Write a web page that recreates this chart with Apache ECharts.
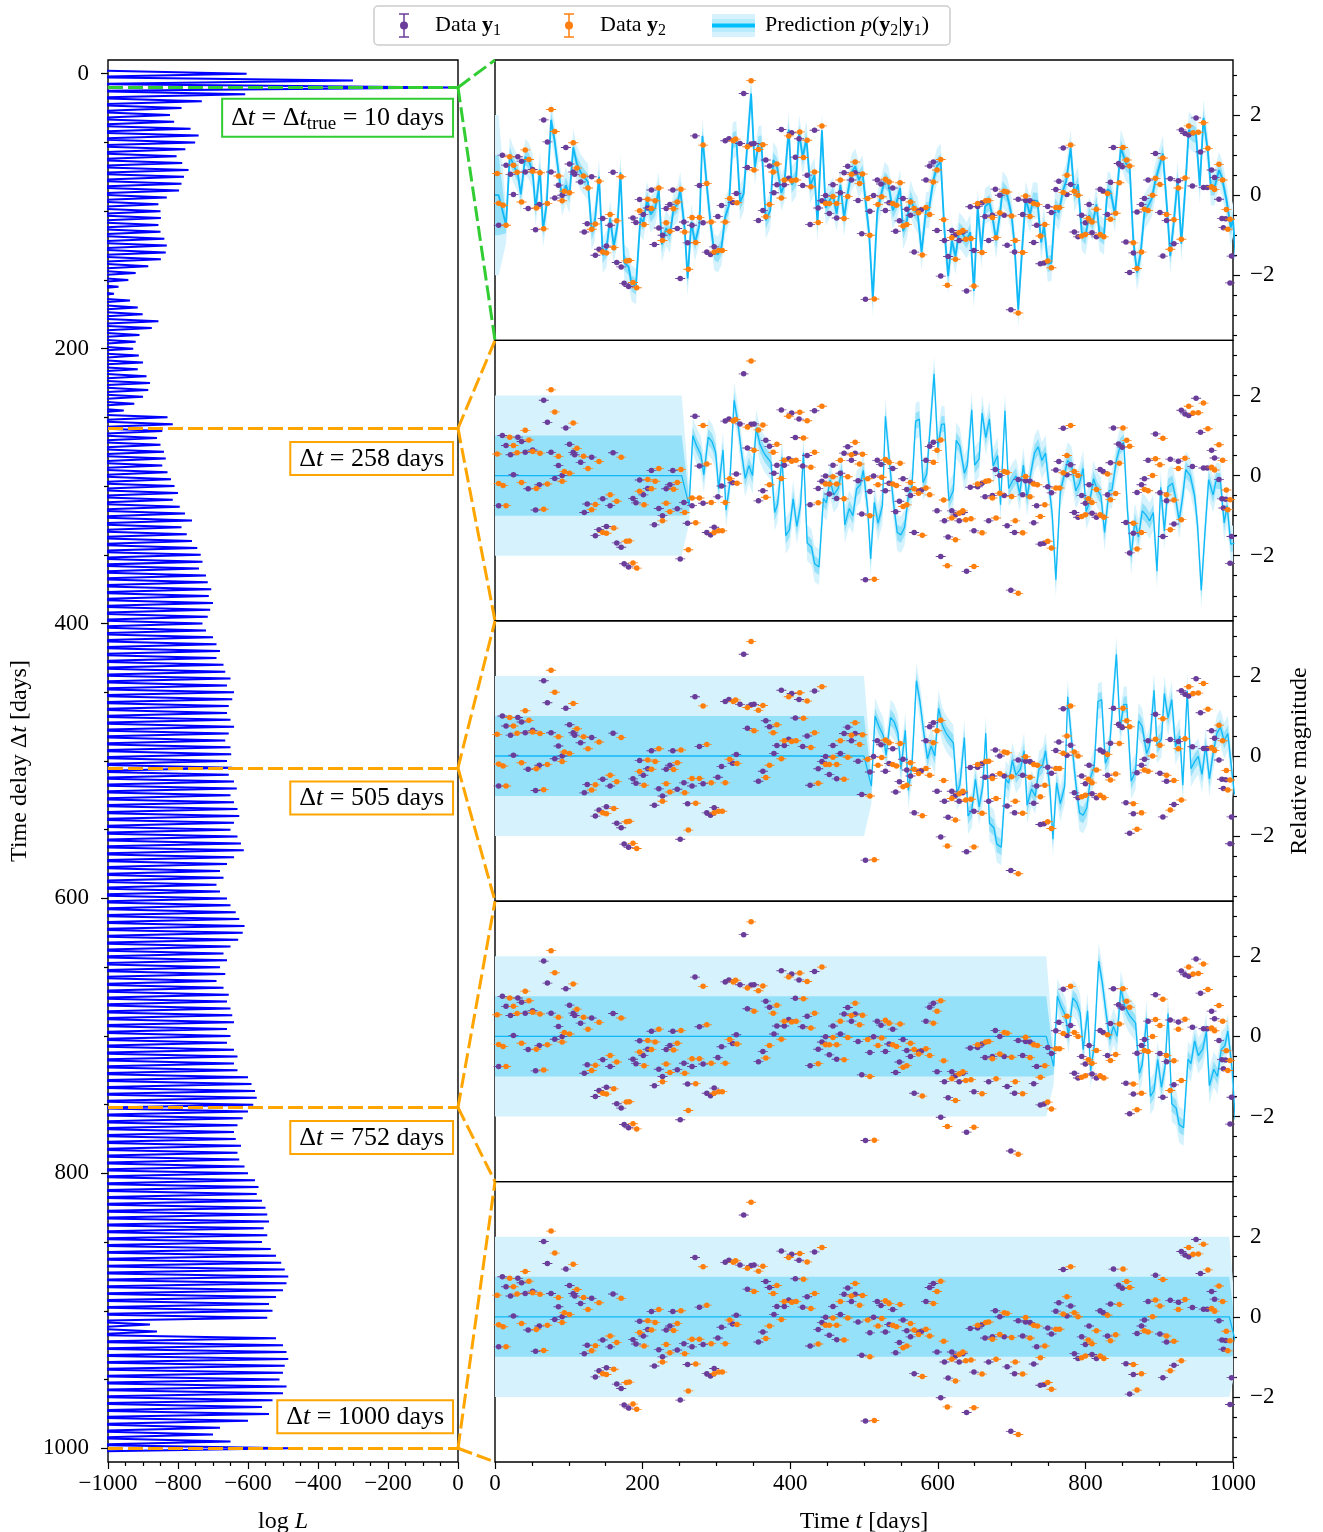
<!DOCTYPE html>
<html><head><meta charset="utf-8">
<script src="https://cdn.jsdelivr.net/npm/echarts@6/dist/echarts.min.js"></script>
<style>html,body{margin:0;padding:0;background:#fff}#c{width:1323px;height:1532px}</style>
</head><body><div id="c"></div>
<script>
// ---------------- DATA ----------------
const y1Times = [5,10,15,21,25,31,36,41,45,51,55,60,66,71,76,81,86,91,96,101,106,108,116,121,125,131,136,141,146,151,156,160,165,
171,175,181,187,191,196,201,207,212,216,222,227,232,237,241,247,251,256,261,267,271,277,282,287,292,297,302,307,312,317,322,327,332,
337,342,347,351,357,363,367,372,378,382,388,392,398,402,407,412,417,423,427,433,438,443,448,453,458,463,468,473,478,483,488,492,497,502,
508,513,518,523,529,534,539,543,548,553,558,563,568,574,578,584,589,594,599,604,609,614,619,624,629,634,639,644,649,654,660,664,669,
674,678,684,690,694,699,704,709,715,719,725,730,734,739,744,749,754,760,764,770,775,780,785,790,795,800,805,809,815,820,824,830,834,838,
845,850,855,860,865,870,876,880,885,895,901,905,910,915,920,926,930,935,940,945,950,956,960,965,971,975,981,985,987,990,996,998];
const y1Values = [-0.75,1.0,0.75,0.52,0.02,0.96,0.85,0.58,-0.33,0.64,-0.86,-0.23,1.88,1.33,0.58,-0.07,0.25,0.0,1.19,0.78,0.58,0.52,0.33,-0.92,-0.71,0.46,-1.5,-1.35,-0.58,-1.27,-0.75,0.57,-1.68,
-1.79,-2.2,-2.28,-0.57,-0.68,-0.11,-0.48,-0.32,0.13,-1.23,-0.82,-1.0,-0.33,-0.23,0.13,-0.83,-2.08,-0.67,-1.19,-0.75,1.48,0.24,-0.69,-1.42,-1.48,-1.29,-0.53,-0.26,1.36,1.41,-0.18,0.04,1.29,
2.54,0.69,1.28,1.29,-0.63,-0.38,0.88,0.73,0.06,0.26,1.64,0.26,0.42,1.56,0.95,1.41,0.24,0.5,-0.73,1.62,-0.32,-0.14,-0.01,-0.46,0.26,-0.57,0.06,0.56,0.72,0.38,0.56,-0.13,-0.96,-2.6,
-0.4,-0.01,0.38,0.28,-0.38,-0.19,0.18,-0.9,-0.64,-0.08,-0.35,-0.5,-1.42,-0.38,-0.36,0.38,0.73,0.83,-0.88,-2.02,-1.13,-1.53,-0.88,-0.98,-1.13,-0.92,-2.39,-0.29,-1.38,-0.28,-0.19,-0.53,-1.13,
-0.5,0.15,0.0,-0.5,-1.25,-2.86,-1.42,-0.1,-0.48,-0.13,-0.14,-1.18,-0.75,-1.71,-1.69,-0.28,-0.43,0.14,0.35,1.18,0.02,0.27,-0.92,-1.04,-0.5,-0.69,-0.23,-0.94,-1.04,0.15,0.1,-0.48,0.32,1.19,
0.79,0.71,-1.17,-1.93,-1.44,-0.42,-0.23,-0.08,0.38,1.04,-0.43,-1.52,-0.63,0.41,-1.21,0.36,1.63,1.54,1.5,0.23,1.93,1.08,0.19,0.19,0.63,0.44,-0.1,-0.58,-0.81,-0.59,-2.19,-1.52];

const y2Times = [3,5,11,15,20,25,30,36,41,46,51,56,61,66,71,76,81,86,91,94,101,106,111,120,126,131,136,141,146,151,156,161,165,
171,178,182,187,192,196,202,207,212,217,222,227,232,237,242,247,252,257,262,267,272,277,282,287,293,297,303,308,312,318,323,326,328,
342,347,351,357,363,367,372,377,382,388,392,398,402,408,413,418,423,428,433,438,443,448,453,458,463,468,473,478,483,488,494,498,
505,508,514,519,524,529,534,539,544,549,553,558,563,568,574,579,584,589,594,599,604,608,613,619,624,629,634,638,645,649,654,660,665,669,
674,679,684,690,694,700,705,709,715,719,725,730,735,739,745,749,754,760,765,770,775,780,785,790,795,800,804,809,815,820,825,830,834,
841,846,851,856,860,865,870,876,880,885,891,895,901,905,910,915,920,926,930,935,940,946,953,960,966,971,975,981,986,991,993,996];
const y2Values = [0.54,-0.2,-0.25,-0.75,0.96,0.75,0.57,-0.17,1.13,0.89,0.6,-0.32,0.56,-0.84,-0.21,2.14,1.59,0.48,-0.14,0.1,0.06,1.31,0.68,0.48,0.18,-0.85,-0.72,0.35,-1.42,-1.44,-0.48,-1.31,-0.64,
0.46,-1.64,-1.63,-2.18,-2.31,-0.39,-0.73,-0.1,-0.33,-0.14,0.18,-1.13,-0.69,-0.9,-0.34,-0.17,0.15,-0.92,-1.85,-0.56,-1.18,-0.56,1.25,0.29,-0.67,-1.42,-1.38,-1.38,-0.67,-0.08,1.36,1.4,-0.19,
1.21,2.86,0.63,1.14,1.26,-0.54,-0.23,0.58,0.78,-0.07,0.38,1.48,0.36,0.38,1.58,0.94,1.37,0.21,0.58,-0.68,1.73,-0.21,-0.21,-0.03,-0.21,0.38,-0.58,-0.03,0.52,0.83,0.29,0.53,
-0.08,-1.0,-2.59,-0.23,-0.04,0.4,0.33,-0.21,-0.25,0.31,-0.77,-0.73,-0.17,-0.33,-0.44,-1.49,-0.31,-0.48,0.33,0.63,0.89,-0.61,-2.25,-1.06,-1.6,-0.94,-0.88,-1.1,-1.08,-2.27,-0.21,-1.43,-0.14,-0.13,
-0.56,-1.06,-0.44,0.1,0.08,-0.52,-1.13,-2.94,-1.43,-0.02,-0.53,-0.21,-0.23,-1.02,-0.73,-1.64,-1.81,-0.31,-0.31,0.07,0.5,1.25,0.1,0.0,-1.02,-0.98,-0.58,-0.67,-0.35,-0.98,-1.04,0.04,-0.6,
-0.45,0.31,1.19,0.88,0.73,-1.19,-1.83,-1.42,-0.35,-0.38,0.0,0.42,0.27,0.93,-0.48,-1.35,-0.61,0.18,-1.1,0.43,1.73,1.56,1.57,1.81,1.17,0.21,0.14,0.77,0.38,-0.36,-0.85,-0.6];

// time delays of the log-likelihood spikes and their peak values
const delayGrid = [0,5,10,15,20,25,30,35,40,45,50,55,60,65,70,75,80,85,90,95,100,105,110,115,120,125,130,135,140,145,150,155,160,165,170,175,180,185,190,195,200,205,
210,215,220,225,230,235,240,245,250,255,260,265,270,275,280,285,290,295,300,305,310,315,320,325,330,335,340,345,350,355,360,365,370,375,380,385,390,395,
400,405,410,415,420,425,430,435,440,445,450,455,460,465,470,475,480,485,490,495,500,505,510,515,520,525,530,535,540,545,550,555,560,565,570,575,580,585,590,595,
600,605,610,615,620,625,630,635,640,645,650,655,660,665,670,675,680,685,690,695,700,705,710,715,720,725,730,735,740,745,750,755,760,765,770,775,780,785,790,795,
800,805,810,815,820,825,830,835,840,845,850,855,860,865,870,875,880,885,890,895,900,905,910,915,920,925,930,935,940,945,950,955,960,965,970,975,980,985,990,995,1000];
const logLPeaks = [-604,-300,-5,-608,-732,-790,-823,-811,-764,-741,-751,-779,-804,-788,-770,-783,-790,-797,-832,-856,-850,-849,-856,-850,-839,-832,-835,-849,-885,-921,-942,-970,-983,-937,-915,-901,-856,-875,-910,-921,-928,-912,
-900,-915,-890,-880,-885,-900,-925,-955,-830,-815,-845,-860,-850,-840,-835,-845,-830,-820,-810,-800,-815,-795,-780,-760,-790,-775,-760,-745,-735,-730,-740,-720,-715,-705,-712,-700,-708,-715,
-730,-720,-700,-690,-680,-690,-670,-665,-650,-660,-640,-645,-655,-660,-650,-640,-655,-665,-650,-648,-660,-645,-655,-640,-632,-650,-640,-630,-625,-640,-650,-630,-620,-612,-640,-660,-680,-670,-690,-680,
-660,-650,-635,-625,-610,-615,-628,-650,-670,-660,-680,-665,-690,-670,-655,-660,-650,-645,-640,-660,-650,-660,-640,-630,-640,-630,-600,-590,-580,-575,-585,-600,-615,-630,-640,-635,-620,-630,-625,-610,
-600,-580,-570,-575,-560,-550,-545,-540,-555,-545,-560,-535,-520,-505,-495,-485,-490,-500,-520,-540,-530,-545,-880,-860,-520,-500,-490,-485,-495,-500,-510,-490,-500,-530,-560,-540,-600,-680,-700,-650,-480];

const panelDelays = [10, 258, 505, 752, 1000];
const panelLabels = ['true', '258', '505', '752', '1000'];
const leftYTicks = [0,200,400,600,800,1000];
const rightYTicks = [-2,0,2];

// ---------------- STYLE ----------------
const FONT = '"Liberation Serif","DejaVu Serif",serif';
const FS = 23, NFS = 24, AFS = 26, LFS = 22;
const PURPLE = '#6a3d9a', ORANGE = '#ff7f0e', BLUE = '#0000ff';
const LINE_BLUE = '#0fb9f7', LIGHT_BAND = '#d6f3fd', DARK_BAND = '#96e1fa';
const GREEN = '#32cd32', GOLD = '#ffa500';
const YMIN = -3.625, YMAX = 3.375;
const TROUGH = -1080;
const DARK_W = 0.2, LIGHT_W = 0.45;   // half-widths of the bands where data constrain the prediction
const minus = v => String(v).replace('-', '\u2212');
const markerPath = 'path://M0,4.2H18V5.8H0Z M9,0A5,5 0 1,1 8.99,0Z';

const GL = 108, GT = 60, GW = 350, GH = 1402;
const RL = 495, RW = 738, RH = GH / 5;

const gridBase = {show: true, borderColor: '#000', borderWidth: 1.4, backgroundColor: 'rgba(0,0,0,0)', containLabel: false, outerBoundsMode: 'none'};
const grids = [Object.assign({left: GL, top: GT, width: GW, height: GH}, gridBase)];
for (let k = 0; k < 5; k++) grids.push(Object.assign({left: RL, top: GT + k * RH, width: RW, height: RH}, gridBase));

const tickStyle = {color: '#000', width: 1.2};
const labelStyle = {fontSize: FS, fontFamily: FONT, color: '#000'};
const nameRich = {r: {fontSize: NFS, fontFamily: FONT, color: '#000'}, i: {fontSize: NFS, fontFamily: FONT, fontStyle: 'italic', color: '#000'}};

const xAxes = [{
  gridIndex: 0, type: 'value', min: -1000, max: 0, interval: 200,
  axisLine: {show: false, onZero: false}, splitLine: {show: false},
  axisTick: {show: true, length: 7, lineStyle: tickStyle},
  minorTick: {show: true, splitNumber: 4, length: 4, lineStyle: tickStyle},
  axisLabel: Object.assign({margin: 10, formatter: minus}, labelStyle),
  name: '{r|log }{i|L}', nameLocation: 'middle', nameGap: 48, nameTextStyle: {rich: nameRich}
}];
for (let k = 1; k <= 5; k++) {
  const last = k === 5;
  xAxes.push({
    gridIndex: k, type: 'value', min: 0, max: 1000, interval: 200,
    axisLine: {show: false, onZero: false}, splitLine: {show: false},
    axisTick: {show: last, length: 7, lineStyle: tickStyle},
    minorTick: {show: last, splitNumber: 4, length: 4, lineStyle: tickStyle},
    axisLabel: Object.assign({show: last, margin: 10, formatter: minus}, labelStyle),
    name: last ? '{r|Time }{i|t}{r| [days]}' : '', nameLocation: 'middle', nameGap: 48, nameTextStyle: {rich: nameRich}
  });
}

const minorLeftY = [];
for (let v = 50; v < 1000; v += 50) if (v % 200 !== 0) minorLeftY.push(v);
const minorRightY = [-3.5,-3,-2.5,-1.5,-1,-0.5,0.5,1,1.5,2.5,3];

const yAxes = [{
  gridIndex: 0, type: 'value', inverse: true, min: -10, max: 1010, position: 'left',
  axisLine: {show: false, onZero: false}, splitLine: {show: false},
  axisTick: {show: true, customValues: leftYTicks, length: 7, lineStyle: tickStyle},
  axisLabel: Object.assign({show: true, customValues: leftYTicks, margin: 19, formatter: v => String(v)}, labelStyle),
  name: '{r|Time delay Δ}{i|t}{r| [days]}', nameLocation: 'middle', nameGap: 76, nameRotate: 90, nameTextStyle: {rich: nameRich}
}];
for (let k = 1; k <= 5; k++) {
  yAxes.push({
    gridIndex: k, type: 'value', min: YMIN, max: YMAX, position: 'right',
    axisLine: {show: false, onZero: false}, splitLine: {show: false},
    axisTick: {show: true, customValues: rightYTicks, length: 7, lineStyle: tickStyle},
    axisLabel: Object.assign({show: true, customValues: rightYTicks, margin: 17, formatter: minus}, labelStyle)
  });
}
yAxes.push({gridIndex: 0, type: 'value', inverse: true, min: -10, max: 1010, position: 'left',
  axisLine: {show: false, onZero: false}, splitLine: {show: false}, axisLabel: {show: false},
  axisTick: {show: true, customValues: minorLeftY, length: 4, lineStyle: tickStyle}});
for (let k = 1; k <= 5; k++) {
  yAxes.push({gridIndex: k, type: 'value', min: YMIN, max: YMAX, position: 'right',
    axisLine: {show: false, onZero: false}, splitLine: {show: false}, axisLabel: {show: false},
    axisTick: {show: true, customValues: minorRightY, length: 4, lineStyle: tickStyle}});
}

// ---------------- SERIES ----------------
const series = [];
const leftLine = [];
for (let i = 0; i < delayGrid.length; i++) {
  const d = delayGrid[i];
  const prev = i > 0 ? delayGrid[i - 1] : d - 5;
  leftLine.push([TROUGH, (prev + d) / 2]);
  leftLine.push([logLPeaks[i], d]);
}
leftLine.push([TROUGH, delayGrid[delayGrid.length - 1] + 2.5]);
series.push({
  type: 'line', xAxisIndex: 0, yAxisIndex: 0, data: leftLine, symbol: 'none', clip: true,
  lineStyle: {color: BLUE, width: 2}, z: 2,
  markLine: {
    silent: true, symbol: ['none', 'none'], label: {show: false}, animation: false,
    data: panelDelays.map((d, k) => ({yAxis: d, lineStyle: {color: k === 0 ? GREEN : GOLD, type: [15, 5], width: 3}}))
  }
});

// prediction p(y2|y1): prior (mean 0, 1σ = 1) before the shifted y1 data, then y1 shifted by the delay
function prediction(delay) {
  const pts = [[0, 0, 1, 2]];
  if (delay - 5 > 0) pts.push([delay - 5, 0, 1, 2]);
  for (let i = 0; i < y1Times.length; i++) {
    const t = y1Times[i] + delay;
    pts.push([t, y1Values[i], DARK_W, LIGHT_W]);
    if (t > 1000) break;
  }
  return pts;
}

function bandSeries(ax, p, idx, color, z) {
  return {
    type: 'custom', xAxisIndex: ax, yAxisIndex: ax, silent: true, z: z, clip: true,
    data: [[0, 0]],
    renderItem: function (params, api) {
      const cs = params.coordSys;
      const up = p.map(q => api.coord([q[0], q[1] + q[idx]]));
      const lo = p.map(q => api.coord([q[0], q[1] - q[idx]])).reverse();
      return {
        type: 'polygon', shape: {points: up.concat(lo)}, style: {fill: color},
        clipPath: {type: 'rect', shape: {x: cs.x, y: cs.y, width: cs.width, height: cs.height}}
      };
    }
  };
}

panelDelays.forEach((delay, k) => {
  const ax = k + 1;
  const p = prediction(delay);
  series.push(bandSeries(ax, p, 3, LIGHT_BAND, 1));
  series.push(bandSeries(ax, p, 2, DARK_BAND, 2));
  series.push({type: 'line', xAxisIndex: ax, yAxisIndex: ax, symbol: 'none', clip: true, silent: true,
    data: p.map(q => [q[0], q[1]]), lineStyle: {color: LINE_BLUE, width: k === 0 ? 1.8 : 1.3}, z: 3});
  series.push({type: 'scatter', xAxisIndex: ax, yAxisIndex: ax, symbol: markerPath, symbolSize: [10, 5.5],
    itemStyle: {color: PURPLE, opacity: 1}, data: y1Times.map((t, i) => [t, y1Values[i]]), z: 4, silent: true});
  series.push({type: 'scatter', xAxisIndex: ax, yAxisIndex: ax, symbol: markerPath, symbolSize: [10, 5.5],
    itemStyle: {color: ORANGE, opacity: 1}, data: y2Times.map((t, i) => [t, y2Values[i]]), z: 5, silent: true});
});

const chart = echarts.init(document.getElementById('c'), null, {renderer: 'canvas'});
chart.setOption({animation: false, backgroundColor: '#fff', grid: grids, xAxis: xAxes, yAxis: yAxes, series: series});

// ---------------- GRAPHICS ----------------
const g = [];
const txtRich = {
  i: {fontSize: AFS, fontFamily: FONT, fontStyle: 'italic'},
  s: {fontSize: 19, fontFamily: FONT, padding: [12, 0, 0, 0]},
  b: {fontSize: LFS, fontFamily: FONT, fontWeight: 'bold'},
  li: {fontSize: LFS, fontFamily: FONT, fontStyle: 'italic'},
  ls: {fontSize: 16, fontFamily: FONT, padding: [10, 0, 0, 0]}
};
panelDelays.forEach((d, k) => {
  const col = k === 0 ? GREEN : GOLD;
  const a = chart.convertToPixel({gridIndex: 0}, [0, d]);
  const top = chart.convertToPixel({gridIndex: k + 1}, [0, YMAX]);
  const bot = chart.convertToPixel({gridIndex: k + 1}, [0, YMIN]);
  [top, bot].forEach(b => g.push({type: 'line', silent: true, z: 10,
    shape: {x1: a[0], y1: a[1], x2: b[0], y2: b[1]},
    style: {stroke: col, lineWidth: 3, lineDash: [15, 5]}}));
  const lab = chart.convertToPixel({gridIndex: 0}, [-17, k === 4 ? d - 23 : d + 22]);
  const text = k === 0 ? 'Δ{i|t} = Δ{i|t}{s|true} = 10 days' : 'Δ{i|t} = ' + panelLabels[k] + ' days';
  g.push({type: 'text', silent: true, z: 20, x: lab[0], y: lab[1],
    style: {text: text, rich: txtRich, fontSize: AFS, fontFamily: FONT, fill: '#000', align: 'right', verticalAlign: 'middle',
      backgroundColor: '#fff', borderColor: col, borderWidth: 2, padding: [3, 8, 2, 8]}});
});
g.push({type: 'text', silent: true, x: 1300, y: 761, rotation: Math.PI / 2,
  style: {text: 'Relative magnitude', fontSize: NFS, fontFamily: FONT, fill: '#000', align: 'center', verticalAlign: 'middle'}});
g.push({type: 'rect', silent: true, shape: {x: 374, y: 6, width: 576, height: 39, r: 4}, style: {fill: '#fff', stroke: '#cccccc', lineWidth: 1.5}});
function errIcon(cx, col) {
  g.push({type: 'line', silent: true, shape: {x1: cx, y1: 14, x2: cx, y2: 37}, style: {stroke: col, lineWidth: 1.5}});
  g.push({type: 'line', silent: true, shape: {x1: cx - 5, y1: 14, x2: cx + 5, y2: 14}, style: {stroke: col, lineWidth: 1.5}});
  g.push({type: 'line', silent: true, shape: {x1: cx - 5, y1: 37, x2: cx + 5, y2: 37}, style: {stroke: col, lineWidth: 1.5}});
  g.push({type: 'circle', silent: true, shape: {cx: cx, cy: 25.5, r: 4}, style: {fill: col}});
}
errIcon(404, PURPLE);
errIcon(569, ORANGE);
g.push({type: 'rect', silent: true, shape: {x: 712, y: 14, width: 43, height: 23}, style: {fill: LIGHT_BAND}});
g.push({type: 'rect', silent: true, shape: {x: 712, y: 19, width: 43, height: 13}, style: {fill: '#b8ecfc'}});
g.push({type: 'line', silent: true, shape: {x1: 712, y1: 25.5, x2: 755, y2: 25.5}, style: {stroke: '#00bfff', lineWidth: 4}});
const legStyle = {fontSize: LFS, fontFamily: FONT, fill: '#000', align: 'left', verticalAlign: 'middle', rich: txtRich};
g.push({type: 'text', silent: true, x: 435, y: 25.5, style: Object.assign({text: 'Data {b|y}{ls|1}'}, legStyle)});
g.push({type: 'text', silent: true, x: 600, y: 25.5, style: Object.assign({text: 'Data {b|y}{ls|2}'}, legStyle)});
g.push({type: 'text', silent: true, x: 765, y: 25.5, style: Object.assign({text: 'Prediction {li|p}({b|y}{ls|2}|{b|y}{ls|1})'}, legStyle)});

chart.setOption({graphic: g});
</script></body></html>
